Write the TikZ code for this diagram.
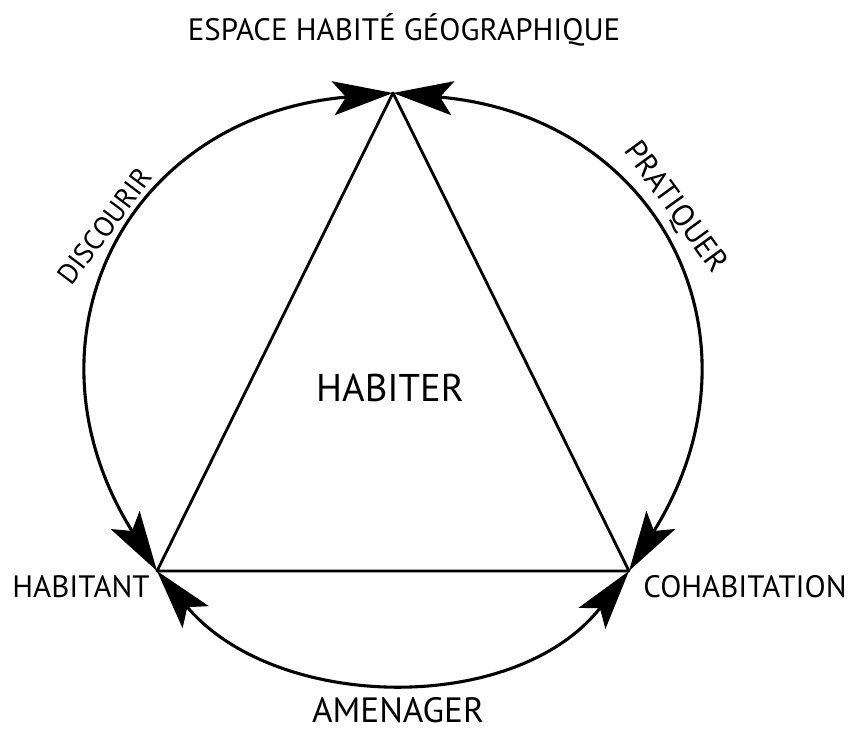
\documentclass[tikz,border=0pt]{standalone}
\usepackage{fontspec}
\setmainfont{PT Sans}
\usetikzlibrary{arrows.meta}
\tikzset{pointe/.tip={Stealth[length=1.5cm,width=0.85cm,inset=0.32cm]},
 lien/.style={line width=2.2pt,pointe-pointe},
 lbl/.style={font=\fontsize{22}{26}\selectfont,inner sep=0pt}}
\begin{document}
\begin{tikzpicture}[x=0.025cm,y=0.025cm,line join=round]
\useasboundingbox(0,0)rectangle(851,751);
\coordinate(E)at(393,658);\coordinate(H)at(157,180);\coordinate(C)at(629,180);
\draw[line width=2pt](E)--(H)--(C)--cycle;
\draw[lien](H)to[out=122,in=185,looseness=1.3](E);\draw[lien](E)to[out=-5,in=58,looseness=1.3](C);
\draw[lien](H)to[out=-50,in=-128,looseness=1](C);
\node[lbl](esp)at(404,721){ESPACE HABITÉ GÉOGRAPHIQUE};\node[lbl,font=\fontsize{27.5}{33}\selectfont](hab)at(390,363){HABITER};
\node[lbl](hbt)at(81,164){HABITANT};\node[lbl](coh)at(745,164){COHABITATION};
\node[lbl,font=\fontsize{25}{30}\selectfont](ame)at(398,41){AMENAGER};
\node[lbl,font=\fontsize{20}{24}\selectfont,rotate=53](dis)at(105,525){DISCOURIR};\node[lbl,rotate=-54](pra)at(675,543){PRATIQUER};
\end{tikzpicture}
\end{document}
